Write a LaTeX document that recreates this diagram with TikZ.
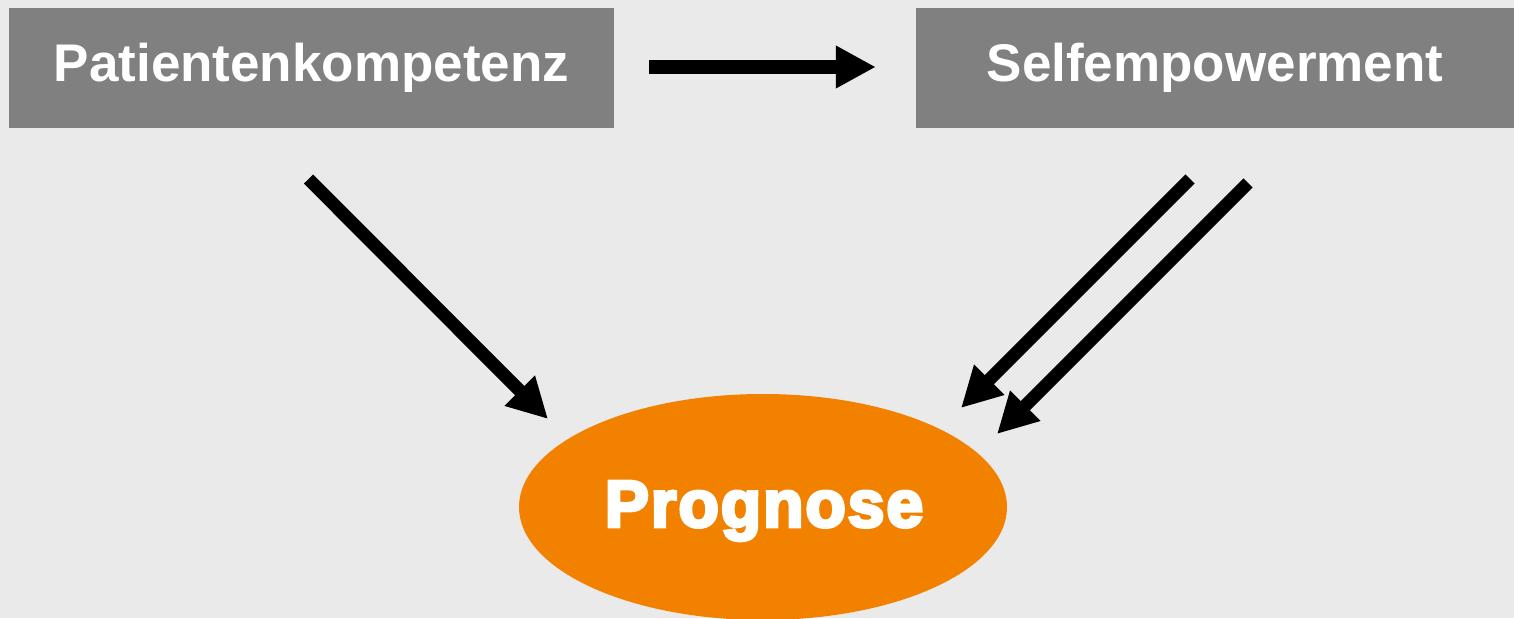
\documentclass[tikz,border=0pt]{standalone}
\usepackage{fontspec}
\setmainfont{Liberation Sans}
\newfontfamily\heavyfont[FakeBold=5]{Liberation Sans Bold}
\usetikzlibrary{arrows.meta}
\definecolor{bgc}{HTML}{EAEAEA}
\definecolor{boxc}{HTML}{808080}
\definecolor{orc}{HTML}{F28100}
\begin{document}
\begin{tikzpicture}[x=1pt,y=-1pt,
  boxnode/.style={fill=boxc,draw=none,inner sep=0pt,text=white,font=\bfseries\fontsize{53}{60}\selectfont},
  bigarrow/.style={draw=black,line width=13pt,-{Triangle[width=40pt,length=40pt]}}]
\fill[bgc] (0,0) rectangle (1514,618);
\useasboundingbox (0,0) rectangle (1514,618);
\node[boxnode,minimum width=605pt,minimum height=120pt] (pk) at (311.5,68) {Patientenkompetenz};
\node[boxnode,minimum width=598pt,minimum height=120pt] (se) at (1215,68) {Selfempowerment};
\fill[orc] (763,507) ellipse [x radius=244, y radius=113];
\node[text=white,inner sep=0pt] (pr) at (764,511) {\heavyfont\fontsize{66}{72}\selectfont\addfontfeature{LetterSpace=3}Prognose};
\coordinate (a1s) at (308.5,179);
\coordinate (a1e) at (548,419);
\coordinate (a2s) at (1190,179);
\coordinate (a2e) at (961,408);
\coordinate (a3s) at (1248,183);
\coordinate (a3e) at (997,434);
\draw[bigarrow,shorten <=35pt,shorten >=40pt] ([yshift=1pt]pk.east) -- ([yshift=1pt]se.west);
\draw[bigarrow] (a1s) -- (a1e);
\draw[bigarrow] (a2s) -- (a2e);
\draw[bigarrow] (a3s) -- (a3e);
\end{tikzpicture}
\end{document}
